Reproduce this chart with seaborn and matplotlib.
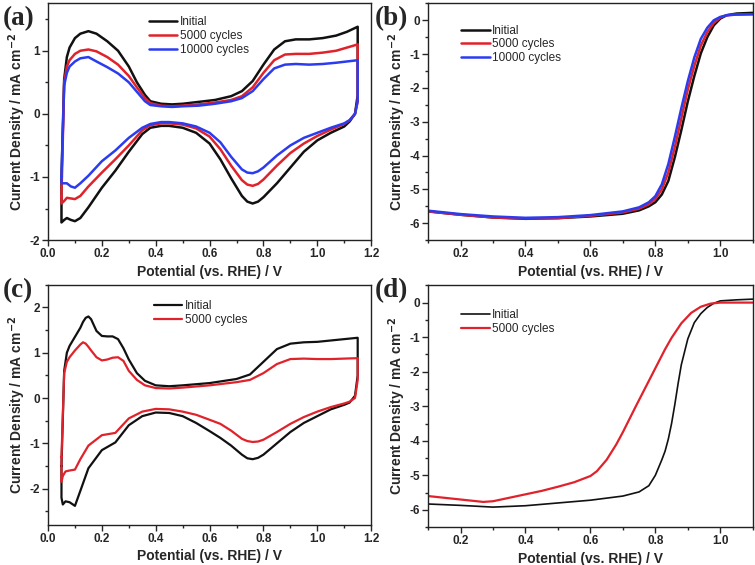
import numpy as np
import pandas as pd
import matplotlib
matplotlib.use('Agg')
import matplotlib.pyplot as plt
import seaborn as sns
from matplotlib.ticker import MultipleLocator

sns.set_style('ticks')
plt.rcParams['font.family'] = ['Liberation Sans', 'DejaVu Sans']
plt.rcParams['axes.labelweight'] = 'bold'
plt.rcParams['axes.unicode_minus'] = False

BLACK = '#111111'
RED = '#e0222b'
BLUE = '#2b3cf0'

# ---- panel (a): CV, anodic (forward) and cathodic (reverse) branches
a_x_up = [0.05, 0.06, 0.07, 0.08, 0.10, 0.12, 0.15, 0.18, 0.22, 0.26, 0.30, 0.33, 0.36, 0.38,
          0.42, 0.46, 0.50, 0.56, 0.62, 0.68, 0.72, 0.76, 0.80, 0.84, 0.88, 0.92, 0.97, 1.02,
          1.07, 1.11, 1.15]
a_init_up = [-1.0, 0.55, 0.9, 1.05, 1.2, 1.27, 1.31, 1.27, 1.15, 1.0, 0.75, 0.5, 0.3, 0.2,
             0.16, 0.15, 0.16, 0.19, 0.22, 0.28, 0.36, 0.52, 0.78, 1.02, 1.15, 1.18, 1.18, 1.2,
             1.24, 1.3, 1.38]
a_5k_up = [-1.3, 0.5, 0.75, 0.85, 0.95, 1.0, 1.02, 0.99, 0.9, 0.78, 0.6, 0.42, 0.25, 0.17,
           0.13, 0.12, 0.13, 0.15, 0.18, 0.22, 0.28, 0.42, 0.65, 0.85, 0.94, 0.95, 0.95, 0.97,
           1.0, 1.05, 1.1]
a_10k_up = [-1.0, 0.45, 0.65, 0.75, 0.83, 0.88, 0.9, 0.83, 0.74, 0.64, 0.5, 0.35, 0.2, 0.14,
            0.12, 0.11, 0.12, 0.13, 0.16, 0.2, 0.25, 0.36, 0.55, 0.72, 0.78, 0.79, 0.78, 0.79,
            0.81, 0.83, 0.85]
a_x_dn = [1.15, 1.14, 1.12, 1.10, 1.05, 1.00, 0.95, 0.90, 0.85, 0.80, 0.78, 0.76, 0.74, 0.72,
          0.68, 0.64, 0.60, 0.55, 0.50, 0.45, 0.42, 0.38, 0.35, 0.30, 0.25, 0.20, 0.15, 0.12,
          0.10, 0.085, 0.07, 0.06, 0.05]
a_init_dn = [0.3, 0.0, -0.12, -0.2, -0.3, -0.42, -0.6, -0.85, -1.1, -1.32, -1.39, -1.42, -1.39,
             -1.3, -1.02, -0.72, -0.47, -0.3, -0.22, -0.19, -0.19, -0.22, -0.32, -0.6, -0.9,
             -1.17, -1.48, -1.65, -1.7, -1.68, -1.65, -1.68, -1.72]
a_5k_dn = [0.2, 0.0, -0.1, -0.16, -0.25, -0.35, -0.47, -0.62, -0.82, -1.04, -1.11, -1.14, -1.12,
           -1.05, -0.82, -0.56, -0.36, -0.23, -0.17, -0.15, -0.15, -0.18, -0.26, -0.5, -0.72,
           -0.93, -1.15, -1.3, -1.35, -1.34, -1.33, -1.38, -1.42]
a_10k_dn = [0.2, 0.0, -0.1, -0.15, -0.22, -0.3, -0.38, -0.5, -0.66, -0.85, -0.91, -0.94, -0.93,
            -0.88, -0.68, -0.45, -0.3, -0.2, -0.15, -0.13, -0.13, -0.16, -0.22, -0.38, -0.58,
            -0.75, -0.98, -1.1, -1.17, -1.15, -1.1, -1.1, -1.1]

# ---- panel (b): LSV
b_x = [0.10, 0.20, 0.30, 0.40, 0.50, 0.60, 0.70, 0.75, 0.78, 0.80, 0.82, 0.84, 0.86, 0.88,
       0.90, 0.92, 0.94, 0.96, 0.98, 1.00, 1.02, 1.05, 1.10]
b_init = [-5.65, -5.75, -5.83, -5.87, -5.85, -5.8, -5.72, -5.62, -5.5, -5.38, -5.15, -4.75,
          -4.05, -3.25, -2.4, -1.65, -0.98, -0.5, -0.15, 0.05, 0.15, 0.2, 0.22]
b_5k = [-5.65, -5.75, -5.83, -5.86, -5.85, -5.78, -5.68, -5.57, -5.44, -5.28, -5.0, -4.5,
        -3.75, -2.9, -2.05, -1.35, -0.75, -0.35, -0.08, 0.08, 0.15, 0.17, 0.18]
b_10k = [-5.63, -5.73, -5.8, -5.84, -5.82, -5.76, -5.65, -5.53, -5.38, -5.2, -4.85, -4.25,
         -3.45, -2.6, -1.8, -1.1, -0.55, -0.22, 0.0, 0.1, 0.15, 0.17, 0.18]

# ---- panel (c): CV
c_x_up = [0.05, 0.06, 0.07, 0.08, 0.10, 0.12, 0.13, 0.14, 0.15, 0.16, 0.18, 0.20, 0.22, 0.24,
          0.26, 0.28, 0.30, 0.33, 0.36, 0.40, 0.45, 0.50, 0.60, 0.70, 0.75, 0.80, 0.85, 0.90,
          0.95, 1.00, 1.05, 1.10, 1.15]
c_init_up = [-1.5, 0.6, 1.0, 1.15, 1.35, 1.55, 1.68, 1.77, 1.8, 1.74, 1.48, 1.37, 1.36, 1.36,
             1.3, 1.1, 0.85, 0.55, 0.38, 0.28, 0.26, 0.28, 0.33, 0.42, 0.52, 0.8, 1.08, 1.2,
             1.23, 1.24, 1.27, 1.3, 1.33]
c_5k_up = [-1.3, 0.55, 0.8, 0.9, 1.05, 1.18, 1.23, 1.2, 1.13, 1.05, 0.9, 0.83, 0.85, 0.89,
           0.9, 0.82, 0.6, 0.4, 0.28, 0.22, 0.21, 0.23, 0.28, 0.35, 0.4, 0.55, 0.75, 0.86,
           0.87, 0.86, 0.86, 0.87, 0.88]
c_x_dn = [1.15, 1.14, 1.12, 1.10, 1.05, 1.00, 0.95, 0.90, 0.85, 0.80, 0.78, 0.76, 0.74, 0.72,
          0.68, 0.64, 0.60, 0.55, 0.50, 0.45, 0.40, 0.35, 0.30, 0.25, 0.20, 0.15, 0.12, 0.10,
          0.08, 0.065, 0.055, 0.05]
c_init_dn = [0.5, 0.05, -0.1, -0.15, -0.25, -0.4, -0.55, -0.75, -1.0, -1.25, -1.32, -1.35,
             -1.33, -1.25, -1.05, -0.88, -0.73, -0.55, -0.4, -0.33, -0.32, -0.4, -0.6, -0.98,
             -1.15, -1.55, -2.05, -2.38, -2.3, -2.28, -2.35, -2.2]
c_5k_dn = [0.4, 0.0, -0.08, -0.12, -0.2, -0.3, -0.42, -0.57, -0.75, -0.92, -0.96, -0.97, -0.95,
           -0.9, -0.72, -0.57, -0.48, -0.37, -0.3, -0.25, -0.24, -0.3, -0.45, -0.77, -0.82,
           -1.05, -1.35, -1.58, -1.6, -1.62, -1.72, -1.85]

# ---- panel (d): LSV
d_x_init = [0.10, 0.20, 0.30, 0.40, 0.50, 0.60, 0.70, 0.75, 0.78, 0.80, 0.82, 0.83, 0.84,
            0.85, 0.86, 0.87, 0.88, 0.90, 0.92, 0.94, 0.96, 0.98, 1.00, 1.05, 1.10]
d_init = [-5.83, -5.87, -5.92, -5.88, -5.8, -5.72, -5.6, -5.48, -5.3, -5.0, -4.55, -4.3, -3.95,
          -3.5, -2.95, -2.35, -1.8, -1.05, -0.58, -0.32, -0.14, -0.02, 0.05, 0.08, 0.1]
d_x_5k = [0.10, 0.20, 0.27, 0.30, 0.35, 0.40, 0.45, 0.50, 0.55, 0.60, 0.62, 0.65, 0.68, 0.70,
          0.74, 0.77, 0.80, 0.83, 0.85, 0.88, 0.91, 0.94, 0.97, 1.00, 1.10]
d_5k = [-5.6, -5.7, -5.77, -5.75, -5.65, -5.55, -5.45, -5.33, -5.2, -5.02, -4.88, -4.55, -4.1,
        -3.75, -3.0, -2.45, -1.9, -1.35, -1.02, -0.6, -0.3, -0.12, -0.03, 0.0, 0.0]


def cv_loop(x_up, y_up, x_dn, y_dn, name):
    df = pd.DataFrame({'E': list(x_up) + list(x_dn) + [x_up[0]],
                       'j': list(y_up) + list(y_dn) + [y_up[0]]})
    df['series'] = name
    return df


def style_ax(ax, xlim, ylim, xmaj, xmin, ymaj, ymin):
    ax.set_xlim(*xlim)
    ax.set_ylim(*ylim)
    ax.xaxis.set_major_locator(MultipleLocator(xmaj))
    ax.xaxis.set_minor_locator(MultipleLocator(xmin))
    ax.yaxis.set_major_locator(MultipleLocator(ymaj))
    ax.yaxis.set_minor_locator(MultipleLocator(ymin))
    ax.tick_params(which='major', length=4, width=1, labelsize=8.5, pad=2)
    ax.tick_params(which='minor', length=2.5, width=1)
    for lab in ax.get_xticklabels() + ax.get_yticklabels():
        lab.set_fontweight('bold')
    for sp in ax.spines.values():
        sp.set_visible(True)
        sp.set_linewidth(1.0)
        sp.set_color('#222222')
    ax.set_xlabel('Potential (vs. RHE) / V', fontsize=10, labelpad=3)
    ax.set_ylabel('Current Density / mA cm$^{\\mathbf{-2}}$', fontsize=10, labelpad=1)
    leg = ax.legend(loc='upper left', frameon=False, prop={'size': 8.5, 'weight': 'normal'},
                    handlelength=2.4, handletextpad=0.2, labelspacing=0.15)
    return leg


fig = plt.figure(figsize=(7.55, 5.65), dpi=100)
ax_a = fig.add_axes([0.0636, 0.575, 0.428, 0.419])
ax_b = fig.add_axes([0.567, 0.575, 0.430, 0.419])
ax_c = fig.add_axes([0.0636, 0.071, 0.428, 0.425])
ax_d = fig.add_axes([0.567, 0.067, 0.430, 0.428])

# (a)
for (yu, yd, name, col) in [(a_init_up, a_init_dn, 'Initial', BLACK),
                            (a_5k_up, a_5k_dn, '5000 cycles', RED),
                            (a_10k_up, a_10k_dn, '10000 cycles', BLUE)]:
    df = cv_loop(a_x_up, yu, a_x_dn, yd, name)
    sns.lineplot(data=df, x='E', y='j', sort=False, estimator=None, color=col, lw=1.8,
                 label=name, ax=ax_a)
leg = style_ax(ax_a, (0, 1.2), (-2, 1.75), 0.2, 0.1, 1, 0.5)
leg.set_bbox_to_anchor((0.28, 0.99))

# (b)
for (yy, name, col) in [(b_init, 'Initial', BLACK), (b_5k, '5000 cycles', RED),
                        (b_10k, '10000 cycles', BLUE)]:
    sns.lineplot(x=b_x, y=yy, sort=False, estimator=None, color=col, lw=1.8, label=name,
                 ax=ax_b)
leg = style_ax(ax_b, (0.1, 1.1), (-6.5, 0.5), 0.2, 0.1, 1, 0.5)
leg.set_bbox_to_anchor((0.07, 0.955))

# (c)
for (yu, yd, name, col) in [(c_init_up, c_init_dn, 'Initial', BLACK),
                            (c_5k_up, c_5k_dn, '5000 cycles', RED)]:
    df = cv_loop(c_x_up, yu, c_x_dn, yd, name)
    sns.lineplot(data=df, x='E', y='j', sort=False, estimator=None, color=col, lw=1.6,
                 label=name, ax=ax_c)
leg = style_ax(ax_c, (0, 1.2), (-2.8, 2.5), 0.2, 0.1, 1, 0.5)
leg.set_bbox_to_anchor((0.295, 0.98))

# (d)
sns.lineplot(x=d_x_init, y=d_init, sort=False, estimator=None, color=BLACK, lw=1.2,
             label='Initial', ax=ax_d)
sns.lineplot(x=d_x_5k, y=d_5k, sort=False, estimator=None, color=RED, lw=1.6,
             label='5000 cycles', ax=ax_d)
leg = style_ax(ax_d, (0.1, 1.1), (-6.5, 0.5), 0.2, 0.1, 1, 0.5)
leg.set_bbox_to_anchor((0.07, 0.945))

panel_font = dict(family=['Liberation Serif', 'DejaVu Serif'], fontsize=19.5, fontweight='bold',
                  va='top', ha='left')
fig.text(0.004, 0.99, '(a)', **panel_font)
fig.text(0.497, 0.99, '(b)', **panel_font)
fig.text(0.004, 0.508, '(c)', **panel_font)
fig.text(0.497, 0.508, '(d)', **panel_font)

fig.savefig('out.png', dpi=100, facecolor='white')
